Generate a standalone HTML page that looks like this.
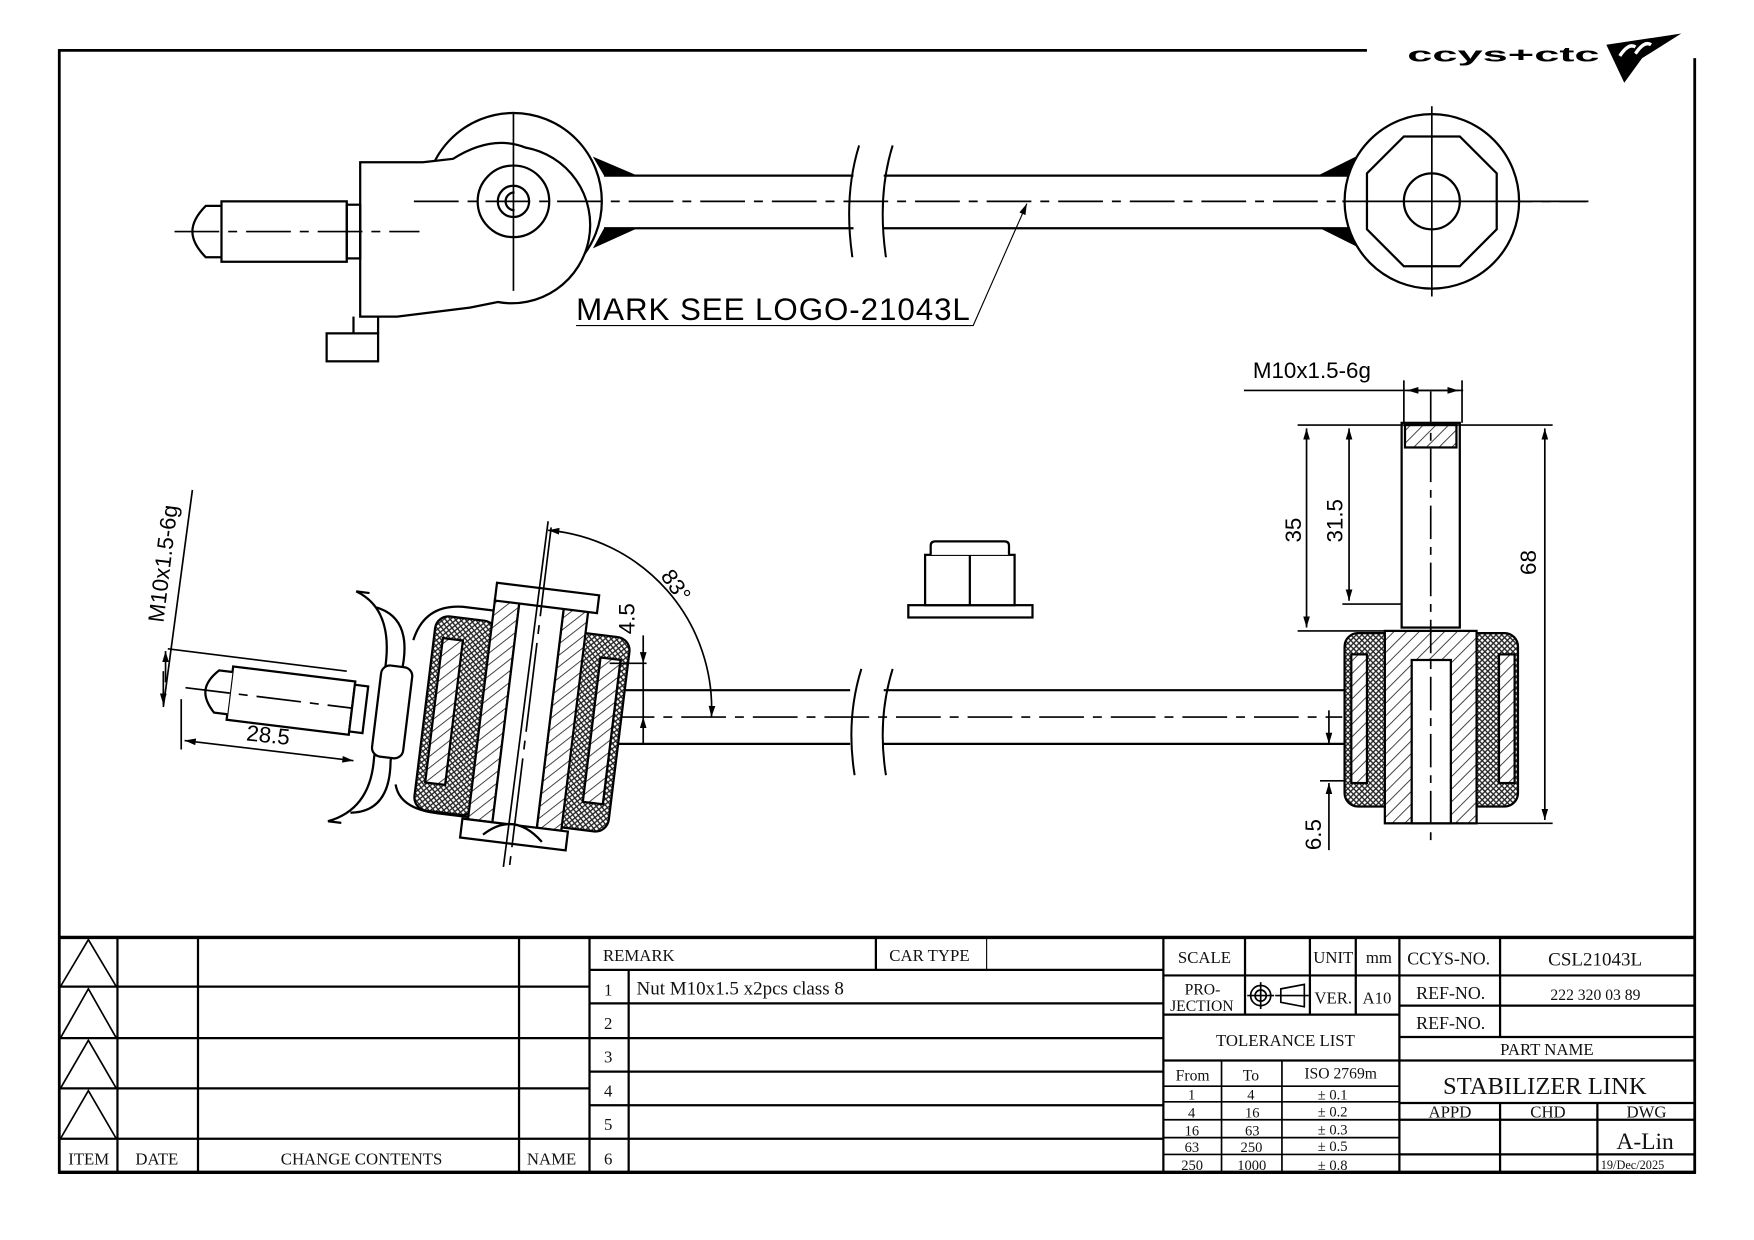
<!DOCTYPE html>
<html><head><meta charset="utf-8"><style>
html,body{margin:0;padding:0;background:#fff;}
svg{display:block;}
.s{font-family:"Liberation Serif",serif;fill:#111;}
.a{font-family:"Liberation Sans",sans-serif;fill:#000;}
</style></head><body>
<svg width="1754" height="1240" viewBox="0 0 1568 1108.5" xmlns="http://www.w3.org/2000/svg">
<defs>
<pattern id="x" width="5" height="5" patternUnits="userSpaceOnUse">
<rect width="5" height="5" fill="#fff"/><path d="M0 0L5 5M5 0L0 5" stroke="#222" stroke-width="1.2"/>
</pattern>
<pattern id="h" width="8" height="8" patternUnits="userSpaceOnUse" patternTransform="rotate(45)">
<rect width="8" height="8" fill="#fff"/><line x1="0" y1="0" x2="0" y2="8" stroke="#222" stroke-width="1.5"/>
</pattern>
<marker id="ar" viewBox="0 0 10 6" refX="10" refY="3" markerWidth="10" markerHeight="6" orient="auto-start-reverse" markerUnits="userSpaceOnUse"><path d="M0 0L10 3L0 6z" fill="#000"/></marker>
</defs>
<rect width="1568" height="1108.5" fill="#fff"/>

<g stroke="#000" fill="none">
<line x1="52" y1="45" x2="1222" y2="45" stroke-width="2.5"/>
<line x1="53" y1="44" x2="53" y2="1049" stroke-width="2.5"/>
<line x1="1515" y1="52" x2="1515" y2="1049" stroke-width="2.5"/>
<line x1="52" y1="1048" x2="1516" y2="1048" stroke-width="3"/>
<line x1="52" y1="838" x2="1516" y2="838" stroke-width="3"/>
</g>
<text x="1258" y="55" class="a" font-size="18" font-weight="bold" textLength="172" lengthAdjust="spacingAndGlyphs">ccys+ctc</text>
<path d="M1436 40 L1503 30 L1468 52 L1452 74 Z" fill="#000"/>
<path d="M1448 50 q8 -12 14 -8 M1462 48 q8 -12 14 -8" stroke="#fff" stroke-width="3" fill="none"/>

<g stroke="#000" stroke-width="2" fill="none">
<line x1="540" y1="157" x2="763" y2="157"/><line x1="540" y1="204" x2="763" y2="204"/>
<line x1="790" y1="157" x2="1205" y2="157"/><line x1="790" y1="204" x2="1205" y2="204"/>
<path d="M768 130 q-14 45 -6 100 M798 130 q-14 45 -6 100" stroke-width="1.8"/>
<circle cx="459" cy="180" r="79"/>
<path d="M378 145 L405 142 Q440 120 470 132 A60 60 0 0 1 445 270 L420 275 L355 283 L322 283 L322 145 Z" fill="#fff"/>
<circle cx="459" cy="180" r="32"/>
<circle cx="459" cy="180" r="14"/>
<path d="M460 172 a8 8 0 1 0 0 16" />
<rect x="292" y="298" width="46" height="25" />
<line x1="316" y1="283" x2="316" y2="298"/><line x1="338" y1="283" x2="338" y2="298"/>
<rect x="198" y="180" width="112" height="54"/>
<path d="M198 184 L184 184 Q172 196 172 207 Q172 218 184 230 L198 230"/>
<rect x="310" y="183" width="12" height="48"/>
</g>
<path d="M530 140 L570 157 L540 157 Z M530 222 L570 204 L540 204 Z" fill="#000"/>
<path d="M1180 156 L1212 140 L1212 156 Z M1180 204 L1212 220 L1212 204 Z" fill="#000"/>
<g stroke="#000" stroke-width="1.5" fill="none">
<line x1="370" y1="180" x2="1420" y2="180" stroke-dasharray="40 8 8 8"/>
<line x1="156" y1="207" x2="375" y2="207" stroke-dasharray="40 8 8 8"/>
<line x1="459" y1="100" x2="459" y2="260"/>
</g>
<g stroke="#000" stroke-width="2" fill="#fff">
<circle cx="1280" cy="180" r="78"/>
<polygon points="1255,122 1305,122 1338,155 1338,205 1305,238 1255,238 1222,205 1222,155"/>
<circle cx="1280" cy="180" r="25"/>
</g>
<g stroke="#000" stroke-width="1.5"><line x1="1280" y1="95" x2="1280" y2="265"/><line x1="1200" y1="180" x2="1418" y2="180"/></g>
<text x="515" y="286" class="a" font-size="28" textLength="352">MARK SEE LOGO-21043L</text>
<path d="M515 291 L870 291 L918 182" stroke="#000" stroke-width="1" fill="none" marker-end="url(#ar)"/>

<g stroke="#000" stroke-width="2" fill="none">
<line x1="545" y1="617" x2="760" y2="617"/><line x1="545" y1="665" x2="760" y2="665"/>
<line x1="790" y1="617" x2="1202" y2="617"/><line x1="790" y1="665" x2="1202" y2="665"/>
<path d="M770 598 q-14 45 -6 95 M798 598 q-14 45 -6 95" stroke-width="1.8"/>
</g>
<line x1="545" y1="641" x2="1200" y2="641" stroke="#000" stroke-width="1.5" stroke-dasharray="40 8 8 8"/>
<g stroke="#000" stroke-width="2" fill="#fff">
<rect x="812" y="541" width="111" height="11"/>
<rect x="827" y="496" width="80" height="45"/>
<line x1="867" y1="496" x2="867" y2="541"/>
<path d="M832 496 L832 488 Q832 484 836 484 L898 484 Q902 484 902 488 L902 496"/>
</g>
<g stroke="#000" stroke-width="2">
<rect x="1253" y="378" width="52" height="183" fill="#fff"/>
<rect x="1256" y="380" width="46" height="20" fill="url(#h)"/>
<rect x="1202" y="566" width="47" height="155" rx="12" fill="url(#x)"/>
<rect x="1310" y="566" width="47" height="155" rx="12" fill="url(#x)"/>
<rect x="1238" y="564" width="82" height="172" fill="url(#h)"/>
<rect x="1262" y="590" width="35" height="146" fill="#fff"/>
<rect x="1208" y="585" width="14" height="115" fill="url(#h)"/>
<rect x="1340" y="585" width="14" height="115" fill="url(#h)"/>
</g>
<g stroke="#000" stroke-width="1.5" fill="none">
<line x1="1279" y1="350" x2="1279" y2="755" stroke-dasharray="30 7 7 7"/>
<line x1="1112" y1="349" x2="1308" y2="349"/>
<line x1="1255" y1="340" x2="1255" y2="378"/><line x1="1307" y1="340" x2="1307" y2="378"/>
<line x1="1258" y1="349" x2="1304" y2="349" marker-start="url(#ar)" marker-end="url(#ar)"/>
<line x1="1160" y1="380" x2="1388" y2="380"/>
<line x1="1160" y1="564" x2="1253" y2="564"/>
<line x1="1200" y1="540" x2="1253" y2="540"/>
<line x1="1168" y1="383" x2="1168" y2="561" marker-start="url(#ar)" marker-end="url(#ar)"/>
<line x1="1206" y1="383" x2="1206" y2="537" marker-start="url(#ar)" marker-end="url(#ar)"/>
<line x1="1260" y1="736" x2="1388" y2="736"/>
<line x1="1381" y1="383" x2="1381" y2="733" marker-start="url(#ar)" marker-end="url(#ar)"/>
<line x1="1180" y1="698" x2="1202" y2="698"/>
<line x1="1188" y1="645" x2="1188" y2="665" marker-end="url(#ar)"/>
<line x1="1188" y1="760" x2="1188" y2="700" marker-end="url(#ar)"/>
<line x1="1188" y1="635" x2="1188" y2="645"/>
</g>
<text class="a" font-size="20" transform="translate(1163,485) rotate(-90)">35</text>
<text class="a" font-size="20" transform="translate(1200,485) rotate(-90)">31.5</text>
<text class="a" font-size="20" transform="translate(1373,514) rotate(-90)">68</text>
<text class="a" font-size="20" transform="translate(1181,760) rotate(-90)">6.5</text>
<text x="1120" y="338" class="a" font-size="20">M10x1.5-6g</text>

<g transform="rotate(7 470 640)">
<g stroke="#000" stroke-width="2" fill="#fff">
<path d="M325 560 Q360 565 355 615 L355 695 Q360 740 325 745" />
<path d="M318 548 L306 548 Q342 560 340 615 L340 695 Q342 740 306 755 L318 755"/>
<path d="M362 585 Q368 552 402 550 L440 550 M362 715 Q368 736 402 736 L440 736"/>
<rect x="337" y="610" width="28" height="82" rx="8"/>
<rect x="380" y="560" width="55" height="175" rx="12" fill="url(#x)"/>
<rect x="500" y="560" width="55" height="175" rx="12" fill="url(#x)"/>
<rect x="388" y="580" width="18" height="130" fill="url(#h)"/>
<rect x="530" y="580" width="18" height="130" fill="url(#h)"/>
<rect x="430" y="540" width="22" height="198" fill="url(#h)"/>
<rect x="492" y="540" width="22" height="198" fill="url(#h)"/>
<rect x="452" y="540" width="40" height="200" fill="#fff"/>
<rect x="430" y="525" width="92" height="16"/>
<path d="M425 738 L520 738 L520 755 L425 755 Z"/>
<path d="M445 750 Q470 725 498 750" />
<rect x="205" y="628" width="110" height="48"/>
<path d="M205 633 L193 633 Q183 643 183 652 Q183 661 193 671 L205 671"/>
<rect x="315" y="631" width="12" height="42"/>
</g>
<g stroke="#000" stroke-width="1.5" fill="none">
<line x1="165" y1="652" x2="315" y2="652" stroke-dasharray="40 8 8 8"/>
<line x1="472" y1="470" x2="472" y2="780" stroke-dasharray="80 8 8 8"/>
</g>
</g>
<g stroke="#000" stroke-width="1.5" fill="none">
<line x1="172" y1="438" x2="146" y2="632"/>
<line x1="150" y1="580" x2="310" y2="600"/>
<line x1="148" y1="610" x2="148" y2="582" marker-end="url(#ar)"/>
<line x1="146" y1="600" x2="146" y2="630" marker-end="url(#ar)"/>
<line x1="162" y1="625" x2="162" y2="670"/>
<line x1="165" y1="662" x2="316" y2="680" marker-start="url(#ar)" marker-end="url(#ar)"/>
<line x1="490" y1="466" x2="450" y2="775"/>
<path d="M490 474 A160 160 0 0 1 636 641" marker-start="url(#ar)" marker-end="url(#ar)"/>
<line x1="545" y1="593" x2="578" y2="593"/>
<line x1="575" y1="568" x2="575" y2="593" marker-end="url(#ar)"/>
<line x1="575" y1="665" x2="575" y2="641" marker-end="url(#ar)"/>
<line x1="575" y1="593" x2="575" y2="641"/>
</g>
<text class="a" font-size="20" transform="translate(146,557) rotate(-83)">M10x1.5-6g</text>
<text x="220" y="664" class="a" font-size="20" transform="rotate(6 240 660)">28.5</text>
<text class="a" font-size="20" transform="translate(567,567) rotate(-90)">4.5</text>
<text class="a" font-size="20" transform="translate(590,515) rotate(55)">83°</text>

<g stroke="#000" stroke-width="2" fill="none">
<line x1="105" y1="838" x2="105" y2="1048"/><line x1="177" y1="838" x2="177" y2="1048"/>
<line x1="464" y1="838" x2="464" y2="1048"/><line x1="527" y1="838" x2="527" y2="1048"/>
<line x1="53" y1="882" x2="527" y2="882"/><line x1="53" y1="928" x2="527" y2="928"/>
<line x1="53" y1="973" x2="527" y2="973"/><line x1="53" y1="1018" x2="527" y2="1018"/>
<path d="M54 882 L79 840 L104 882 M54 928 L79 884 L104 928 M54 973 L79 930 L104 973 M54 1018 L79 975 L104 1018" stroke-width="1.5"/>
<line x1="527" y1="867" x2="1040" y2="867"/><line x1="527" y1="897" x2="1040" y2="897"/>
<line x1="527" y1="928" x2="1040" y2="928"/><line x1="527" y1="958" x2="1040" y2="958"/>
<line x1="527" y1="988" x2="1040" y2="988"/><line x1="527" y1="1018" x2="1040" y2="1018"/>
<line x1="562" y1="867" x2="562" y2="1048"/>
<line x1="783" y1="838" x2="783" y2="867"/><line x1="882" y1="838" x2="882" y2="867" stroke-width="1"/>
<line x1="1040" y1="838" x2="1040" y2="1048"/>
<line x1="1040" y1="872" x2="1251" y2="872"/><line x1="1040" y1="907" x2="1251" y2="907"/>
<line x1="1040" y1="948" x2="1251" y2="948"/><line x1="1040" y1="971" x2="1251" y2="971" stroke-width="1.5"/>
<line x1="1040" y1="985" x2="1251" y2="985" stroke-width="1.5"/><line x1="1040" y1="1001" x2="1251" y2="1001" stroke-width="1.5"/>
<line x1="1040" y1="1017" x2="1251" y2="1017" stroke-width="1.5"/><line x1="1040" y1="1032" x2="1251" y2="1032" stroke-width="1.5"/>
<line x1="1113" y1="838" x2="1113" y2="907"/><line x1="1171" y1="838" x2="1171" y2="907"/><line x1="1212" y1="838" x2="1212" y2="907"/>
<line x1="1092" y1="948" x2="1092" y2="1048" stroke-width="1.5"/><line x1="1146" y1="948" x2="1146" y2="1048" stroke-width="1.5"/>
<line x1="1251" y1="838" x2="1251" y2="1048"/>
<line x1="1251" y1="872" x2="1515" y2="872"/><line x1="1251" y1="899" x2="1515" y2="899"/>
<line x1="1251" y1="927" x2="1515" y2="927"/><line x1="1251" y1="948" x2="1515" y2="948"/>
<line x1="1251" y1="986" x2="1515" y2="986"/><line x1="1251" y1="1001" x2="1515" y2="1001"/>
<line x1="1251" y1="1032" x2="1515" y2="1032"/>
<line x1="1341" y1="838" x2="1341" y2="927"/>
<line x1="1341" y1="986" x2="1341" y2="1048"/><line x1="1428" y1="986" x2="1428" y2="1048"/>
</g>
<g stroke="#000" stroke-width="1.5" fill="none">
<circle cx="1127" cy="890" r="9"/><circle cx="1127" cy="890" r="5"/>
<line x1="1115" y1="890" x2="1139" y2="890"/><line x1="1127" y1="878" x2="1127" y2="902"/>
<path d="M1145 884 L1166 880 L1166 900 L1145 896 Z"/><line x1="1140" y1="890" x2="1170" y2="890"/>
</g>
<g class="s" font-size="15">
<text x="61" y="1041">ITEM</text><text x="121" y="1041">DATE</text>
<text x="251" y="1041">CHANGE CONTENTS</text><text x="471" y="1041">NAME</text>
<text x="539" y="859">REMARK</text><text x="795" y="859">CAR TYPE</text>
<text x="540" y="890">1</text><text x="540" y="920">2</text><text x="540" y="950">3</text>
<text x="540" y="980">4</text><text x="540" y="1010">5</text><text x="540" y="1041">6</text>
<text x="569" y="889" font-size="17">Nut M10x1.5 x2pcs class 8</text>
<text x="1053" y="861">SCALE</text><text x="1174" y="861">UNIT</text><text x="1221" y="861">mm</text>
<text x="1059" y="889" font-size="14">PRO-</text><text x="1046" y="904" font-size="14">JECTION</text>
<text x="1175" y="897">VER.</text><text x="1218" y="897">A10</text>
<text x="1087" y="935">TOLERANCE LIST</text>
<text x="1051" y="966" font-size="14">From</text><text x="1111" y="966" font-size="14">To</text><text x="1166" y="964" font-size="14">ISO 2769m</text>
<g font-size="13">
<text x="1062" y="983">1</text><text x="1115" y="983">4</text><text x="1178" y="983">± 0.1</text>
<text x="1062" y="999">4</text><text x="1113" y="999">16</text><text x="1178" y="998">± 0.2</text>
<text x="1059" y="1015">16</text><text x="1113" y="1015">63</text><text x="1178" y="1014">± 0.3</text>
<text x="1059" y="1030">63</text><text x="1109" y="1030">250</text><text x="1178" y="1029">± 0.5</text>
<text x="1056" y="1046">250</text><text x="1106" y="1046">1000</text><text x="1178" y="1046">± 0.8</text>
</g>
<text x="1258" y="862" font-size="16">CCYS-NO.</text><text x="1384" y="863" font-size="17">CSL21043L</text>
<text x="1266" y="893" font-size="16">REF-NO.</text><text x="1386" y="894" font-size="14">222 320 03 89</text>
<text x="1266" y="920" font-size="16">REF-NO.</text>
<text x="1341" y="943" font-size="15">PART NAME</text>
<text x="1290" y="978" font-size="22">STABILIZER LINK</text>
<text x="1277" y="999">APPD</text><text x="1368" y="999">CHD</text><text x="1454" y="999">DWG</text>
<text x="1445" y="1027" font-size="21">A-Lin</text>
<text x="1431" y="1045" font-size="11">19/Dec/2025</text>
</g>
</svg>
</body></html>
